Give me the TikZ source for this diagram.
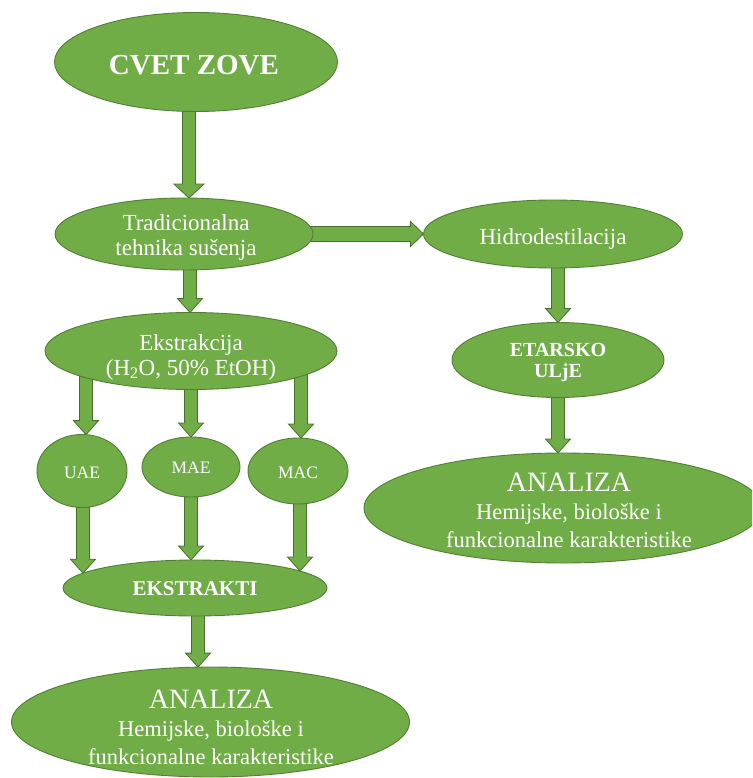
\documentclass[tikz,border=0pt]{standalone}
\usepackage{fontspec}
\setmainfont{Liberation Serif}
\usetikzlibrary{shapes.geometric,calc}
\pgfdeclarelayer{background}
\pgfsetlayers{background,main}
\definecolor{gfill}{HTML}{70AD47}
\definecolor{gline}{HTML}{507E32}
\definecolor{aline}{HTML}{466F2C}
\tikzset{
  ell/.style={ellipse, fill=gfill, draw=gline, line width=0.9pt, inner sep=0pt, outer sep=0pt},
  txt/.style={text=white, align=center, inner sep=0pt, font=\fontsize{23}{25}\selectfont},
  anatxt/.style={txt, font=\fontsize{22.5}{28}\selectfont},
  barrow/.style={fill=gfill, draw=aline, line width=0.8pt, line join=miter},
}
% vertical block arrow: [head half width]{source}{target}{x}
\newcommand\varr[4][12.5]{%
  \draw[barrow] let \p1=(#2.center), \p2=(#2.south), \p3=(#2.east),
    \p4=(#3.center), \p5=(#3.north), \p6=(#3.east),
    \n1={\y1-(\y1-(\y2))*sqrt(1-((#4pt-\x1)/(\x3-\x1))^2)+3pt},
    \n2={\y4+(\y5-(\y4))*sqrt(1-((#4pt-\x4)/(\x6-\x4))^2)}
  in ({#4pt-6.5pt},{\n1}) -- ({#4pt+6.5pt},{\n1}) -- ({#4pt+6.5pt},{\n2+14pt})
     -- ({#4pt+#1pt},{\n2+14pt}) -- ({#4pt},{\n2}) -- ({#4pt-#1pt},{\n2+14pt})
     -- ({#4pt-6.5pt},{\n2+14pt}) -- cycle;}
\begin{document}
\begin{tikzpicture}[x=1pt,y=-1pt]
\useasboundingbox (0,0) rectangle (752,778);
\clip (0,0) rectangle (752,778);
% ellipses
\node[ell, minimum width=283pt, minimum height=99pt] (cvet) at (196,62) {};
\node[ell, minimum width=258pt, minimum height=72pt] (trad) at (184,234) {};
\node[ell, minimum width=259pt, minimum height=68pt] (hidro) at (553,234) {};
\node[ell, minimum width=292pt, minimum height=77pt] (ekstr) at (191,351) {};
\node[ell, minimum width=212pt, minimum height=75pt] (etar) at (558,360) {};
\node[ell, minimum width=398pt, minimum height=110pt] (anaR) at (563,508) {};
\node[ell, minimum width=90pt, minimum height=73pt] (uae) at (82,471) {};
\node[ell, minimum width=98pt, minimum height=60pt] (mae) at (191,467) {};
\node[ell, minimum width=100pt, minimum height=66pt] (mac) at (298,471) {};
\node[ell, minimum width=264pt, minimum height=56pt] (ekt) at (195,588) {};
\node[ell, minimum width=398pt, minimum height=110pt] (anaL) at (210.5,722) {};
% texts
\node[txt, font=\fontsize{29}{31}\selectfont\bfseries] (cvet-t) at (194,65) {CVET ZOVE};
\node[txt] (trad-t) at (186,237.5) {Tradicionalna\\tehnika sušenja};
\node[txt] (hidro-t) at (553,238.5) {Hidrodestilacija};
\node[txt] (ekstr-t) at (191,357) {Ekstrakcija\\(H\textsubscript{2}O, 50\% EtOH)};
\node[txt, font=\fontsize{20}{21}\selectfont\bfseries] (etar-t) at (558,363) {ETARSKO\\ULjE};
\node[txt, font=\fontsize{17.5}{19}\selectfont] (uae-t) at (82,473) {UAE};
\node[txt, font=\fontsize{17.5}{19}\selectfont] (mae-t) at (191,468) {MAE};
\node[txt, font=\fontsize{17.5}{19}\selectfont] (mac-t) at (298,473) {MAC};
\node[txt, font=\fontsize{21}{23}\selectfont\bfseries] (ekt-t) at (195,588.5) {EKSTRAKTI};
\node[anatxt] (anaR-t) at (569,510.5) {{\fontsize{28}{28}\selectfont ANALIZA}\\Hemijske, biološke i\\funkcionalne karakteristike};
\node[anatxt] (anaL-t) at (211,727.5) {{\fontsize{28}{28}\selectfont ANALIZA}\\Hemijske, biološke i\\funkcionalne karakteristike};
% block arrows
\begin{pgfonlayer}{background}
\varr[15]{cvet}{trad}{189}
\varr{trad}{ekstr}{190}
\varr{ekstr}{uae}{86}
\varr{ekstr}{mae}{191}
\varr{ekstr}{mac}{301}
\varr{uae}{ekt}{83}
\varr{mae}{ekt}{191}
\varr{mac}{ekt}{300}
\varr{ekt}{anaL}{198}
\varr{hidro}{etar}{558}
\varr{etar}{anaR}{558}
\draw[barrow] let \p1=(trad.east), \p2=(hidro.west) in
  ({\x1-3pt},{\y1-7.5pt}) -- ({\x2-13pt},{\y1-7.5pt}) -- ({\x2-13pt},{\y1-12.5pt})
  -- (\x2,\y1) -- ({\x2-13pt},{\y1+12.5pt}) -- ({\x2-13pt},{\y1+7.5pt})
  -- ({\x1-3pt},{\y1+7.5pt}) -- cycle;
\end{pgfonlayer}
\end{tikzpicture}
\end{document}
